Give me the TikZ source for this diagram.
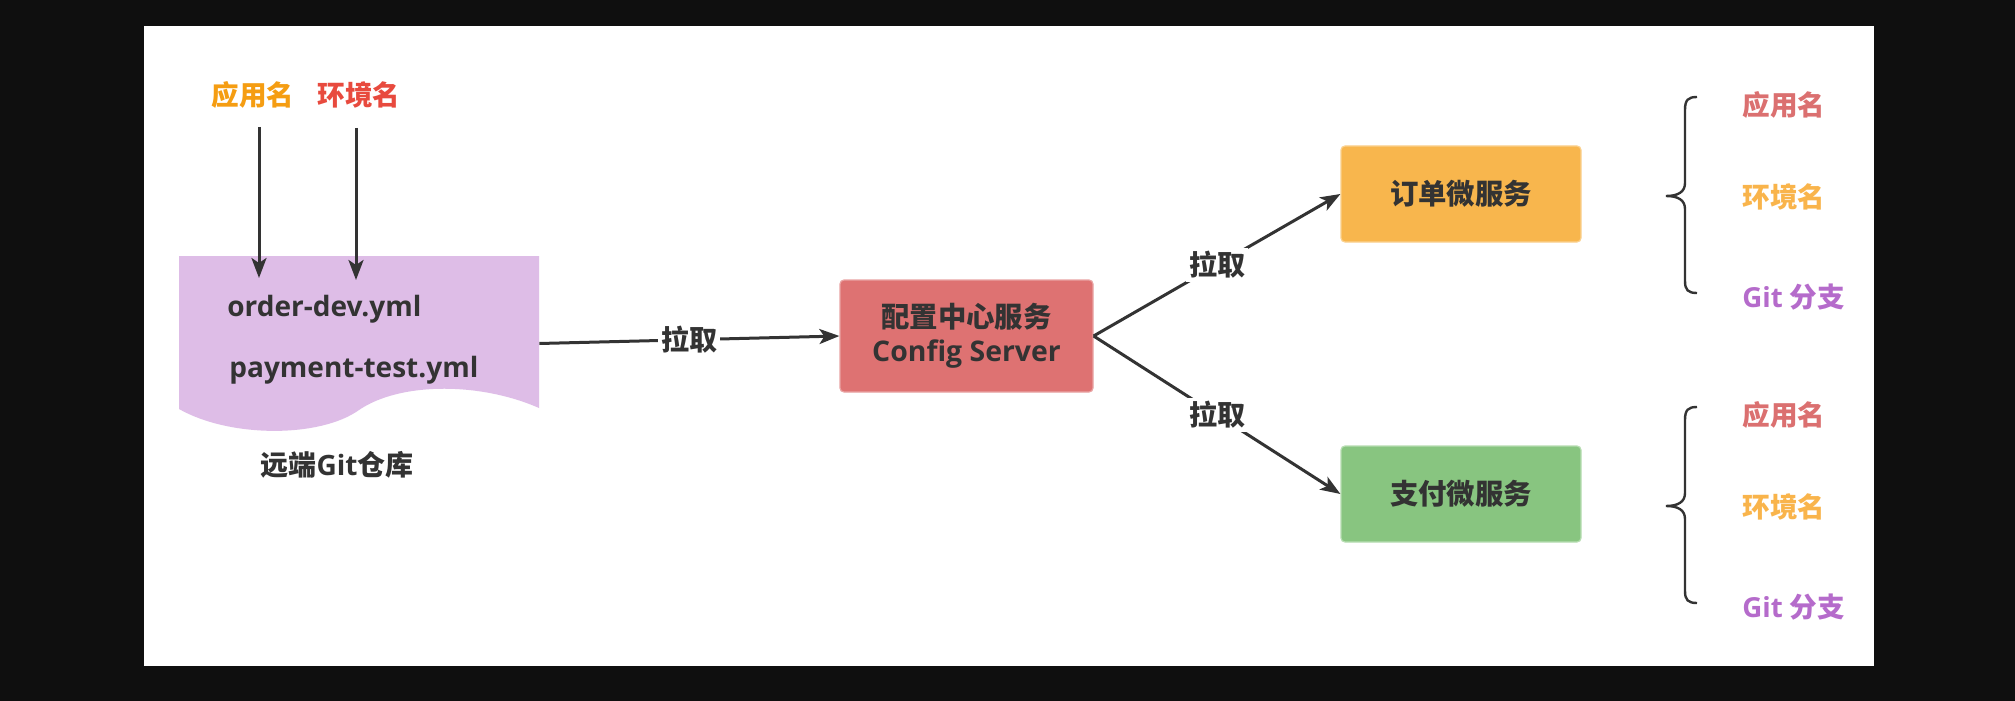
\documentclass[tikz,border=0pt]{standalone}
\usepackage{fontspec}
\setmainfont{Open Sans}
\newfontfamily\cjk{Noto Sans CJK SC}
\usetikzlibrary{arrows.meta}
\definecolor{bgdark}{HTML}{0F0F0F}
\definecolor{txt}{HTML}{333333}
\definecolor{lineC}{HTML}{333333}
\definecolor{docF}{HTML}{DEBDE7}
\definecolor{cfgF}{HTML}{DE7272}
\definecolor{cfgD}{HTML}{E9A3A3}
\definecolor{ordF}{HTML}{F8B64D}
\definecolor{ordD}{HTML}{FAD18F}
\definecolor{payF}{HTML}{88C580}
\definecolor{payD}{HTML}{B7DDB2}
\definecolor{appO}{HTML}{F59D12}
\definecolor{envR}{HTML}{E84A3E}
\definecolor{appR}{HTML}{DB7070}
\definecolor{envO}{HTML}{F9B44B}
\definecolor{gitP}{HTML}{B56BCB}
\begin{document}
\begin{tikzpicture}[x=0.5pt,y=-0.5pt,
  lbl/.style={inner sep=0pt,font=\bfseries\fontsize{13.8}{16}\selectfont},
  txtlbl/.style={inner sep=0pt,text=txt,font=\bfseries\fontsize{14}{17}\selectfont},
  box/.style={rounded corners=2pt,line width=0.6pt,minimum width=126.5pt,minimum height=56pt,text=txt,
    align=center,inner sep=0pt,font=\bfseries\fontsize{14.2}{17}\selectfont},
  svc/.style={box,minimum width=120pt,minimum height=48pt},
  conn/.style={draw=lineC,line width=1.5pt,-{Stealth[length=10pt,width=7.5pt,inset=2.5pt]}},
  pull/.style={fill=white,inner sep=1.5pt,text=txt,font=\cjk\bfseries\fontsize{14}{16}\selectfont},
  brace/.style={draw=lineC,line width=1.2pt}
]
\useasboundingbox (0,0) rectangle (2015,701);
\fill[bgdark] (0,0) rectangle (2015,701);
\fill[white] (144,26) rectangle (1874,666);

% document shape
\fill[docF] (179,256) -- (539,256) -- (539,408)
  .. controls (480,382) and (400,382) .. (359,410)
  .. controls (320,438) and (230,438) .. (179,409) -- cycle;
\node[minimum width=180pt,minimum height=87.5pt,inner sep=0pt] (doc) at (359,343.5) {};
\node[txtlbl,anchor=base west] (f1) at (227,316) {order-dev.yml};
\node[txtlbl,anchor=base west] (f2) at (229,377) {payment-test.yml};
\node[txtlbl] (repo) at (337,465) {{\cjk 远端}Git{\cjk 仓库}};

% top-left labels
\node[lbl,text=appO] (app1) at (253,95) {\cjk 应用名};
\node[lbl,text=envR] (env1) at (359,95) {\cjk 环境名};
\coordinate (a1s) at (259,127);
\coordinate (a1e) at (259,278);
\coordinate (a2s) at (356,128);
\coordinate (a2e) at (356,280);
\draw[conn] (a1s) -- (a1e);
\draw[conn] (a2s) -- (a2e);

% boxes
\node[box,fill=cfgF,draw=cfgD] (cfg) at (966.5,336) {{\cjk 配置中心服务}\\Config Server};
\node[svc,fill=ordF,draw=ordD] (ord) at (1461,194) {\cjk 订单微服务};
\node[svc,fill=payF,draw=payD] (pay) at (1461,494) {\cjk 支付微服务};

% connectors
\draw[conn] (doc.east) -- node[pull] {拉取} (cfg.west);
\draw[conn] (cfg.east) -- node[pull] {拉取} (ord.west);
\draw[conn] (cfg.east) -- node[pull] {拉取} (pay.west);

% braces
\draw[brace] (1697,97) .. controls (1688,97) and (1685,100) .. (1685,110) -- (1685,183)
  .. controls (1685,192) and (1678,196) .. (1666,196)
  .. controls (1678,196) and (1685,200) .. (1685,209) -- (1685,281)
  .. controls (1685,290) and (1688,293) .. (1697,293);
\draw[brace] (1697,407) .. controls (1688,407) and (1685,410) .. (1685,420) -- (1685,493)
  .. controls (1685,502) and (1678,506) .. (1666,506)
  .. controls (1678,506) and (1685,510) .. (1685,519) -- (1685,591)
  .. controls (1685,600) and (1688,603) .. (1697,603);

% right labels
\node[lbl,text=appR,anchor=west] (app2) at (1742,105) {\cjk 应用名};
\node[lbl,text=envO,anchor=west] (env2) at (1742,197) {\cjk 环境名};
\node[lbl,text=gitP,anchor=west] (git2) at (1742,297) {Git {\cjk 分支}};
\node[lbl,text=appR,anchor=west] (app3) at (1742,415) {\cjk 应用名};
\node[lbl,text=envO,anchor=west] (env3) at (1742,507) {\cjk 环境名};
\node[lbl,text=gitP,anchor=west] (git3) at (1742,607) {Git {\cjk 分支}};
\end{tikzpicture}
\end{document}
